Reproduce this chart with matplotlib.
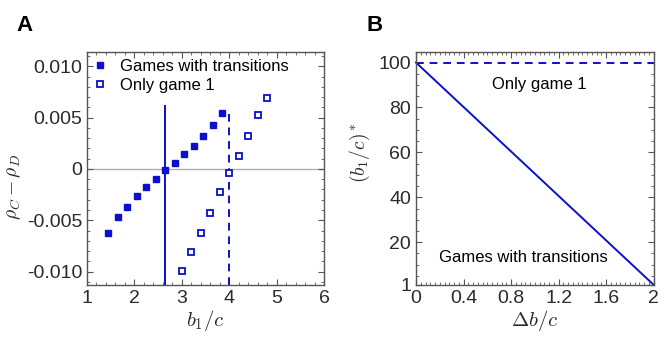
import numpy as np
import matplotlib
matplotlib.use("Agg")
from matplotlib import pyplot as plt
from matplotlib.ticker import MultipleLocator, FixedLocator

plt.rcParams['font.family'] = ['Liberation Sans', 'DejaVu Sans']
plt.rcParams['mathtext.fontset'] = 'cm'

# panel A data
b1c_trans = [1.45, 1.65, 1.85, 2.05, 2.25, 2.45, 2.65, 2.85, 3.05, 3.25, 3.45, 3.65, 3.85]
rho_trans = [-0.0062, -0.0047, -0.0037, -0.0026, -0.0018, -0.0010, -0.0001,
             0.0006, 0.0015, 0.0022, 0.0032, 0.0043, 0.0055]
b1c_game1 = [3.0, 3.2, 3.4, 3.6, 3.8, 4.0, 4.2, 4.4, 4.6, 4.8]
rho_game1 = [-0.0099, -0.0081, -0.0062, -0.0043, -0.0022, -0.0004,
             0.0013, 0.0032, 0.0053, 0.0069]
thr_trans = 2.65
thr_trans_top = 0.0061
thr_game1 = 4.0
thr_game1_top = 0.0054

# panel B data
db_c = [0, 2]
b1c_star_trans = [100, 1]
b1c_star_game1 = [100, 100]
xticks_B = [0, 0.4, 0.8, 1.2, 1.6, 2]
xticklabels_B = ['0', '0.4', '0.8', '1.2', '1.6', '2']
yticks_B = [1, 20, 40, 60, 80, 100]

blue = '#0a10cc'
dark = '#2a2a2a'

fig = plt.figure(figsize=(6.64, 3.42), dpi=100)
axA = fig.add_axes([0.131, 0.167, 0.357, 0.681])
axB = fig.add_axes([0.6265, 0.167, 0.358, 0.681])

for ax in (axA, axB):
    ax.tick_params(which='both', direction='in', top=True, right=True, colors='#555555',
                   labelcolor=dark, labelsize=14)
    ax.tick_params(which='major', length=4, width=0.8)
    ax.tick_params(which='minor', length=2, width=0.6)
    for s in ax.spines.values():
        s.set_color('#555555')
        s.set_linewidth(1.0)

# Panel A
axA.axhline(0, color='#b0b0b0', lw=1.0, zorder=1)
axA.plot([thr_trans, thr_trans], [-0.0113, thr_trans_top], color=blue, lw=1.4)
axA.plot([thr_game1, thr_game1], [-0.0113, thr_game1_top], color=blue, lw=1.4, ls=(0, (4, 3)))
axA.plot(b1c_trans, rho_trans, 's', color=blue, ms=4.5, label='Games with transitions', zorder=3)
axA.plot(b1c_game1, rho_game1, 's', mfc='white', mec=blue, mew=1.3, ms=4.5,
         label='Only game 1', zorder=3)
axA.set_xlim(1, 6)
axA.set_ylim(-0.0113, 0.0114)
axA.xaxis.set_major_locator(MultipleLocator(1))
axA.xaxis.set_minor_locator(MultipleLocator(0.2))
axA.yaxis.set_major_locator(FixedLocator([-0.01, -0.005, 0, 0.005, 0.01]))
axA.yaxis.set_minor_locator(MultipleLocator(0.001))
axA.set_yticklabels(['-0.010', '-0.005', '0', '0.005', '0.010'])
axA.set_xlabel(r'$b_1/c$', fontsize=15, color=dark, labelpad=1)
axA.set_ylabel(r'$\rho_C-\rho_D$', fontsize=14, color=dark)
axA.yaxis.set_label_coords(-0.27, 0.42)
axA.legend(loc='upper left', frameon=False, fontsize=12, handlelength=0.8, handletextpad=0.8,
           borderaxespad=0.2, labelspacing=0.25, numpoints=1, borderpad=0.2)

# Panel B
axB.plot(db_c, b1c_star_game1, color=blue, lw=1.4, ls=(0, (4, 3)), clip_on=False)
axB.plot(db_c, b1c_star_trans, color=blue, lw=1.4, clip_on=False)
axB.set_xlim(0, 2)
axB.set_ylim(1, 104.7)
axB.xaxis.set_major_locator(FixedLocator(xticks_B))
axB.xaxis.set_minor_locator(MultipleLocator(0.04))
axB.yaxis.set_major_locator(FixedLocator(yticks_B))
axB.yaxis.set_minor_locator(MultipleLocator(5))
axB.set_xticklabels(xticklabels_B)
axB.set_xlabel(r'$\Delta b/c$', fontsize=15, color=dark, labelpad=1)
axB.set_ylabel(r'$(b_1/c)^*$', fontsize=14, color=dark)
axB.yaxis.set_label_coords(-0.185, 0.567)
axB.text(1.04, 90, 'Only game 1', fontsize=12, ha='center', va='center', color='black')
axB.text(0.9, 13, 'Games with transitions', fontsize=12, ha='center', va='center', color='black')

fig.text(0.025, 0.955, 'A', fontsize=16, fontweight='bold', va='top')
fig.text(0.552, 0.955, 'B', fontsize=16, fontweight='bold', va='top')

fig.savefig('out.png', dpi=100)
